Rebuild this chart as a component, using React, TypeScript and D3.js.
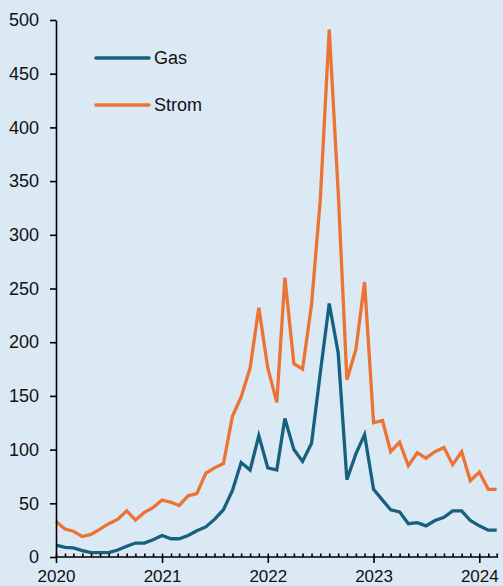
import React, { useEffect, useRef } from "react";
import * as d3 from "d3";

// monthly values, Jan 2020 .. Mar 2024
const gas = [
  11, 9, 8.5, 6, 4, 4, 4, 6.5, 10, 13, 13, 16,
  20, 17, 17, 20, 24.5, 28, 35, 44, 62, 88, 81, 113,
  83, 81, 129, 100, 89, 106, 171, 236, 190, 72, 96, 114,
  63, 53, 44, 42, 31, 32, 29, 34, 37, 43, 43, 34,
  29, 25, 25,
];
const strom = [
  33, 26, 24, 19, 21, 26, 31, 35, 43, 34.5, 41.5, 46,
  53, 51, 48, 57, 59, 78, 83, 87, 131, 149, 176, 232,
  176, 144, 260, 180, 175, 235, 332, 491, 340, 165, 193, 256,
  125, 127, 98, 107, 85, 97, 92, 98, 102, 86, 98, 71,
  79, 63, 63,
];
const seriesNames = ["Gas", "Strom"];
const colors = ["#17607f", "#ec7333"];
const yTicks = [0, 50, 100, 150, 200, 250, 300, 350, 400, 450, 500];

const W = 503;
const H = 586;
const font = "'Liberation Sans', Arial, sans-serif";

const App = () => {
  const ref = useRef<SVGSVGElement>(null);

  useEffect(() => {
    document.body.style.margin = "0";
    const svg = d3.select(ref.current);
    svg.selectAll("*").remove();

    svg.append("rect").attr("width", W).attr("height", H).attr("fill", "#dbe9f5");

    const dates = gas.map((_, i) => new Date(2020, i, 1));

    const x = d3
      .scaleTime()
      .domain([new Date(2020, 0, 1), new Date(2024, 0, 1)])
      .range([56, 479.3]);
    const y = d3.scaleLinear().domain([0, 500]).range([557, 20]);

    // lines
    const line = d3
      .line<number>()
      .x((_, i) => x(dates[i]))
      .y((d) => y(d));

    [gas, strom].forEach((s, k) => {
      svg
        .append("path")
        .datum(s)
        .attr("fill", "none")
        .attr("stroke", colors[k])
        .attr("stroke-width", 3.3)
        .attr("d", line);
    });

    // y axis
    const yAxis = svg
      .append("g")
      .attr("transform", "translate(56,0)")
      .call(
        d3.axisLeft(y).tickValues(yTicks).tickSize(6).tickSizeOuter(0).tickPadding(11)
      );

    // x axis: minor month ticks pointing up, year ticks also pointing down
    const xEnd = new Date(2024, 2, 1);
    const monthTicks = d3.timeMonth.range(new Date(2020, 0, 1), d3.timeMonth.offset(xEnd, 1));
    const yearTicks = d3.timeYear.range(new Date(2020, 0, 1), new Date(2024, 1, 1));

    const xg = svg.append("g").attr("transform", "translate(0,557)");
    xg.append("line")
      .attr("x1", 56)
      .attr("x2", x(xEnd) + 1.5)
      .attr("stroke", "#000")
      .attr("stroke-width", 1.6);
    const xMinor = xg
      .append("g")
      .call(d3.axisTop(x).tickValues(monthTicks).tickSize(3.5).tickFormat(() => ""));
    const xMajor = xg
      .append("g")
      .call(
        d3
          .axisBottom(x)
          .tickValues(yearTicks)
          .tickSize(6)
          .tickPadding(7)
          .tickFormat((d) => d3.timeFormat("%Y")(d as Date))
      );
    xMinor.select(".domain").remove();
    xMajor.select(".domain").remove();

    [yAxis, xMinor, xMajor].forEach((g) => {
      g.selectAll("line").attr("stroke", "#000").attr("stroke-width", 1.6);
      g.selectAll(".domain").attr("stroke", "#000").attr("stroke-width", 1.6);
      g.selectAll("text").attr("font-family", font).attr("font-size", 18).attr("fill", "#111");
    });
    xMajor.selectAll("text").attr("font-size", 17);

    // legend
    const leg = svg.append("g");
    seriesNames.forEach((name, k) => {
      const ly = 58 + k * 47;
      leg
        .append("line")
        .attr("x1", 96)
        .attr("x2", 149)
        .attr("y1", ly)
        .attr("y2", ly)
        .attr("stroke", colors[k])
        .attr("stroke-width", 3.5)
        .attr("stroke-linecap", "round");
      leg
        .append("text")
        .attr("x", 154)
        .attr("y", ly)
        .attr("dy", "0.35em")
        .attr("font-family", font)
        .attr("font-size", 18)
        .attr("fill", "#111")
        .text(name);
    });
  }, []);

  return (
    <svg
      ref={ref}
      width={W}
      height={H}
      style={{ position: "absolute", left: 0, top: 0, display: "block" }}
    />
  );
};

export default App;
